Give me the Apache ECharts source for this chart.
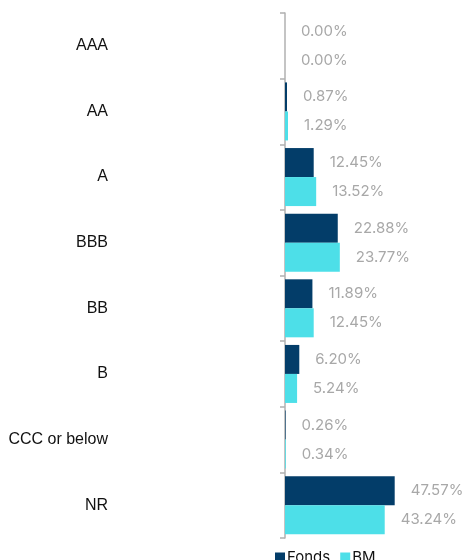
<!DOCTYPE html>
<html>
<head>
<meta charset="utf-8">
<script src="https://cdn.jsdelivr.net/npm/echarts@6/dist/echarts.min.js"></script>
<style>
  html, body { margin: 0; padding: 0; background: #ffffff; }
  #chart { width: 465px; height: 560px; }
</style>
</head>
<body>
<div id="chart"></div>
<script>
// Rating buckets, top to bottom
const ratings = ['AAA', 'AA', 'A', 'BBB', 'BB', 'B', 'CCC or below', 'NR'];
// Portfolio weights (%)
const fonds = [0.00, 0.87, 12.45, 22.88, 11.89, 6.20, 0.26, 47.57];
// Benchmark weights (%)
const bm = [0.00, 1.29, 13.52, 23.77, 12.45, 5.24, 0.34, 43.24];

const valueLabel = {
  show: true,
  position: 'right',
  distance: 16,
  color: '#a8a8a8',
  fontFamily: 'Inter',
  fontSize: 15,
  formatter: p => p.value.toFixed(2) + '%'
};

const chart = echarts.init(document.getElementById('chart'), null, { renderer: 'canvas' });
chart.setOption({
  animation: false,
  grid: { left: 285, top: 13, width: 115.3, height: 525, containLabel: false },
  xAxis: {
    type: 'value',
    min: 0,
    max: 50,
    show: false
  },
  yAxis: {
    type: 'category',
    data: ratings,
    inverse: true,
    axisLine: { show: true, lineStyle: { color: '#b0b0b0', width: 1.5 } },
    axisTick: { show: true, length: 5, lineStyle: { color: '#b0b0b0', width: 1.5 } },
    axisLabel: {
      margin: 177,
      color: '#111111',
      fontFamily: 'Liberation Sans',
      fontSize: 16
    },
    splitLine: { show: false }
  },
  legend: {
    left: 270,
    top: 545,
    itemWidth: 10,
    itemHeight: 10,
    itemGap: 10,
    icon: 'rect',
    textStyle: { color: '#111111', fontFamily: 'Inter', fontSize: 15, padding: [0, 0, 0, -3] },
    data: ['Fonds', 'BM']
  },
  series: [
    {
      name: 'Fonds',
      type: 'bar',
      data: fonds,
      itemStyle: { color: '#033d69' },
      barGap: '0%',
      barCategoryGap: '11.6%',
      label: valueLabel
    },
    {
      name: 'BM',
      type: 'bar',
      data: bm,
      itemStyle: { color: '#4ddfe8' },
      label: valueLabel
    }
  ]
});
</script>
</body>
</html>
